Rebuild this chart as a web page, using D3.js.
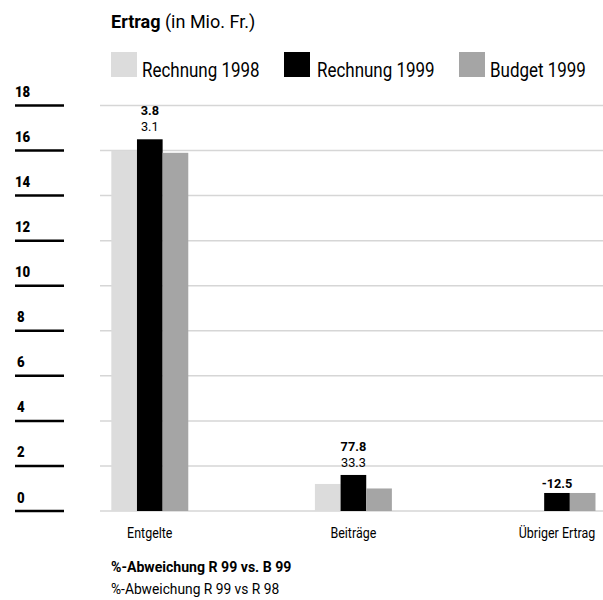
<!DOCTYPE html>
<html>
<head>
<meta charset="utf-8">
<script src="https://cdn.jsdelivr.net/npm/d3@7"></script>
<style>
  html, body { margin: 0; padding: 0; background: #fff; }
  svg { display: block; }
  text { font-family: Roboto, "Noto Sans", sans-serif; fill: #000; white-space: pre; }
</style>
</head>
<body>
<svg id="chart" width="603" height="600"></svg>
<script>
// Income by category (million CHF)
const categories = ["Entgelte", "Beiträge", "Übriger Ertrag"];
const seriesNames = ["Rechnung 1998", "Rechnung 1999", "Budget 1999"];
const rechnung1998 = [16.0, 1.2, null];
const rechnung1999 = [16.5, 1.6, 0.8];
const budget1999 = [15.9, 1.0, 0.8];
// percentage deviations printed above each group
const devR99vsB99 = ["3.8", "77.8", "-12.5"];
const devR99vsR98 = ["3.1", "33.3", ""];
const yTicks = [0, 2, 4, 6, 8, 10, 12, 14, 16, 18];

const seriesValues = [rechnung1998, rechnung1999, budget1999];
const colors = ["#dcdcdc", "#000000", "#a5a5a5"];

// narrow text horizontally around its anchor point to give a condensed face
function squeeze(sel, k) {
  sel.each(function () {
    const x = +this.getAttribute("x") || 0;
    d3.select(this).attr("transform", `translate(${x * (1 - k)},0) scale(${k},1)`);
  });
}

const svg = d3.select("#chart");

const y = d3.scaleLinear().domain([0, 18]).range([511, 105.5]);

const x0 = d3.scaleBand()
  .domain(categories)
  .range([48, 658.8])
  .paddingInner(0.622)
  .paddingOuter(0.311);

const x1 = d3.scaleBand()
  .domain(seriesNames)
  .range([0, x0.bandwidth()]);

// Title
const title = svg.append("text").attr("x", 111).attr("y", 28).style("font-size", "18px");
title.append("tspan").attr("font-weight", "bold").text("Ertrag");
title.append("tspan").text(" (in Mio. Fr.)");

// Legend
const legendX = [111, 284, 459];
const legend = svg.append("g").selectAll("g")
  .data(seriesNames)
  .join("g")
  .attr("transform", (d, i) => `translate(${legendX[i]},52)`);
legend.append("rect")
  .attr("width", 26).attr("height", 25)
  .attr("fill", (d, i) => colors[i]);
squeeze(legend.append("text")
  .attr("x", (d, i) => i === 1 ? 33 : 31)
  .attr("y", 24.7)
  .style("font-size", "19.5px")
  .text(d => d), 0.87);

// Gridlines
svg.append("g")
  .selectAll("line")
  .data(yTicks)
  .join("line")
  .attr("x1", 100).attr("x2", 603)
  .attr("y1", d => y(d)).attr("y2", d => y(d))
  .attr("stroke", "#d6d6d6")
  .attr("stroke-width", 1.5);

// Y axis: bold labels sitting on short black rules
const yAxis = svg.append("g").selectAll("g")
  .data(yTicks)
  .join("g")
  .attr("transform", d => `translate(0,${y(d)})`);
yAxis.append("line")
  .attr("x1", 15).attr("x2", 64)
  .attr("stroke", "#000")
  .attr("stroke-width", 2.5);
squeeze(yAxis.append("text")
  .attr("x", d => d >= 10 ? 15 : 17)
  .attr("y", -8.5)
  .attr("font-weight", 900)
  .style("font-size", "15.5px")
  .text(d => d), 0.85);

// Bars
const groups = svg.append("g").selectAll("g")
  .data(categories)
  .join("g")
  .attr("transform", d => `translate(${x0(d)},0)`);

groups.selectAll("rect")
  .data((c, ci) => seriesNames.map((s, si) => ({ s, si, v: seriesValues[si][ci] })))
  .join("rect")
  .filter(d => d.v !== null)
  .attr("x", d => x1(d.s))
  .attr("width", x1.bandwidth())
  .attr("y", d => y(d.v))
  .attr("height", d => y(0) - y(d.v))
  .attr("fill", d => colors[d.si]);

// Deviation labels over the Rechnung 1999 bar; a lone label drops to the lower slot
const labelLayer = svg.append("g");
const labelX = c => x0(c) + x1("Rechnung 1999") + x1.bandwidth() / 2;
categories.forEach((c, ci) => {
  const top = y(rechnung1999[ci]);
  const hasSecond = devR99vsR98[ci] !== "";
  labelLayer.append("text")
    .attr("x", labelX(c)).attr("y", hasSecond ? top - 24 : top - 5)
    .attr("text-anchor", "middle")
    .attr("font-weight", "bold")
    .style("font-size", "13px")
    .text(devR99vsB99[ci]);
  if (hasSecond) {
    labelLayer.append("text")
      .attr("x", labelX(c)).attr("y", top - 8)
      .attr("text-anchor", "middle")
      .style("font-size", "13px")
      .text(devR99vsR98[ci]);
  }
});
squeeze(labelLayer.selectAll("text"), 0.98);

// Category labels
squeeze(svg.append("g").selectAll("text")
  .data(categories)
  .join("text")
  .attr("x", d => x0(d) + x0.bandwidth() / 2)
  .attr("y", 538)
  .attr("text-anchor", "middle")
  .style("font-size", "14.5px")
  .text(d => d), 0.86);

// Footnotes
squeeze(svg.append("text").attr("x", 111).attr("y", 572)
  .attr("font-weight", "bold").style("font-size", "15.5px")
  .text("%-Abweichung R 99 vs. B 99"), 0.91);
squeeze(svg.append("text").attr("x", 111).attr("y", 594)
  .style("font-size", "15.5px")
  .text("%-Abweichung R 99 vs R 98"), 0.89);
</script>
</body>
</html>
